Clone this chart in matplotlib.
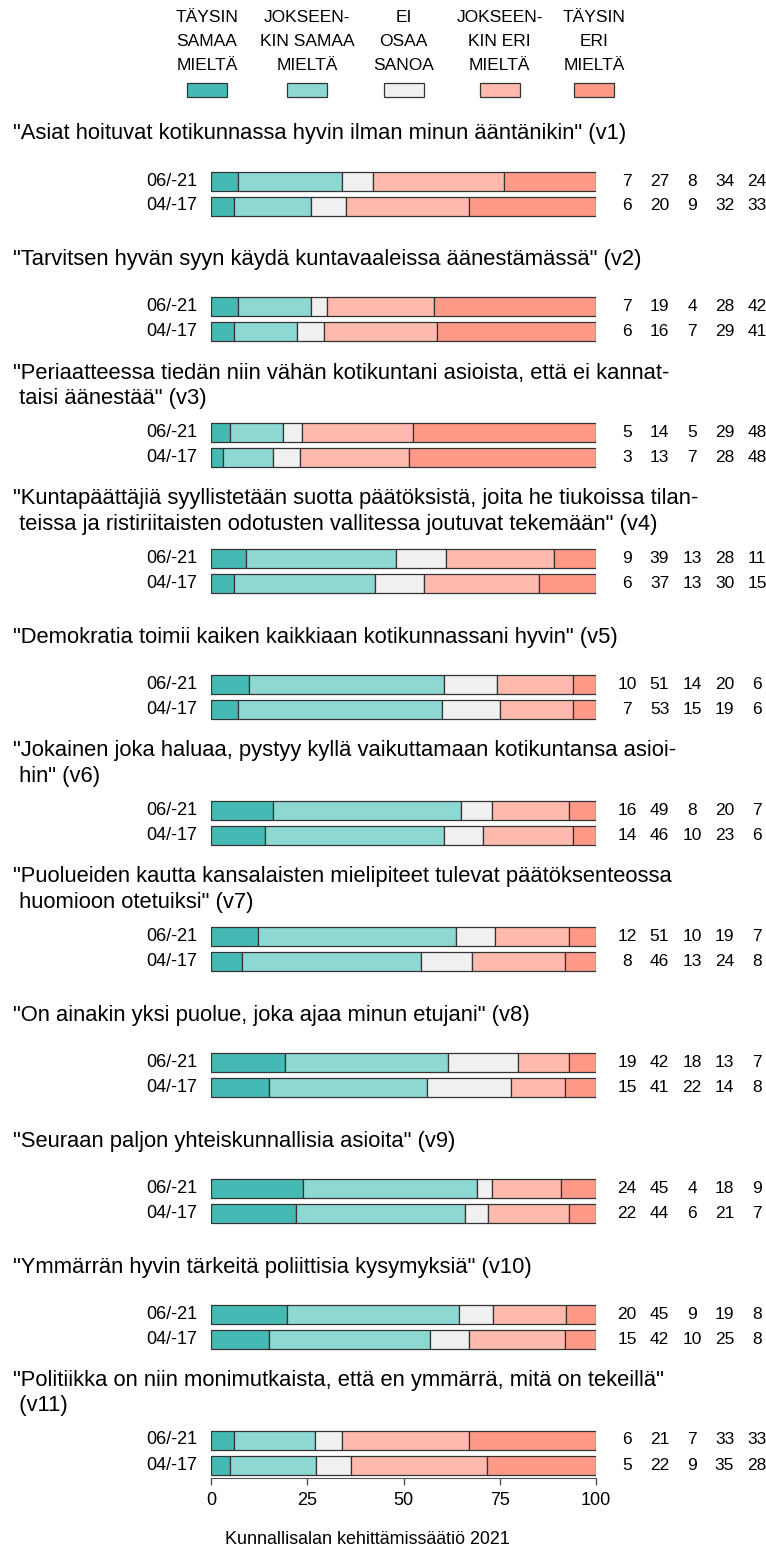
import matplotlib
matplotlib.use("Agg")
import matplotlib.pyplot as plt
import numpy as np

plt.rcParams['font.family'] = ['Liberation Sans', 'DejaVu Sans']

# answer categories (legend)
categories = ["TÄYSIN\nSAMAA\nMIELTÄ", "JOKSEEN-\nKIN SAMAA\nMIELTÄ", "EI\nOSAA\nSANOA",
              "JOKSEEN-\nKIN ERI\nMIELTÄ", "TÄYSIN\nERI\nMIELTÄ"]
colors = ["#45bab4", "#8dd8d2", "#f0f0f0", "#ffb9ad", "#ff9988"]

periods = ["06/-21", "04/-17"]

statements = [
    '"Asiat hoituvat kotikunnassa hyvin ilman minun ääntänikin" (v1)',
    '"Tarvitsen hyvän syyn käydä kuntavaaleissa äänestämässä" (v2)',
    '"Periaatteessa tiedän niin vähän kotikuntani asioista, että ei kannat-\n taisi äänestää" (v3)',
    '"Kuntapäättäjiä syyllistetään suotta päätöksistä, joita he tiukoissa tilan-\n teissa ja ristiriitaisten odotusten vallitessa joutuvat tekemään" (v4)',
    '"Demokratia toimii kaiken kaikkiaan kotikunnassani hyvin" (v5)',
    '"Jokainen joka haluaa, pystyy kyllä vaikuttamaan kotikuntansa asioi-\n hin" (v6)',
    '"Puolueiden kautta kansalaisten mielipiteet tulevat päätöksenteossa\n huomioon otetuiksi" (v7)',
    '"On ainakin yksi puolue, joka ajaa minun etujani" (v8)',
    '"Seuraan paljon yhteiskunnallisia asioita" (v9)',
    '"Ymmärrän hyvin tärkeitä poliittisia kysymyksiä" (v10)',
    '"Politiikka on niin monimutkaista, että en ymmärrä, mitä on tekeillä"\n (v11)',
]

# percentages, 06/2021
share_2021 = [
    [7, 27, 8, 34, 24],
    [7, 19, 4, 28, 42],
    [5, 14, 5, 29, 48],
    [9, 39, 13, 28, 11],
    [10, 51, 14, 20, 6],
    [16, 49, 8, 20, 7],
    [12, 51, 10, 19, 7],
    [19, 42, 18, 13, 7],
    [24, 45, 4, 18, 9],
    [20, 45, 9, 19, 8],
    [6, 21, 7, 33, 33],
]
# percentages, 04/2017
share_2017 = [
    [6, 20, 9, 32, 33],
    [6, 16, 7, 29, 41],
    [3, 13, 7, 28, 48],
    [6, 37, 13, 30, 15],
    [7, 53, 15, 19, 6],
    [14, 46, 10, 23, 6],
    [8, 46, 13, 24, 8],
    [15, 41, 22, 14, 8],
    [22, 44, 6, 21, 7],
    [15, 42, 10, 25, 8],
    [5, 22, 9, 35, 28],
]

source = "Kunnallisalan kehittämissäätiö 2021"

W, H = 766, 1550
fig = plt.figure(figsize=(W / 100, H / 100), dpi=100)

# axes covers the bar area; y units are pixels from the top
x0_px, x1_px, axis_px = 211, 596, 1478
ax = fig.add_axes([x0_px / W, (H - axis_px) / H, (x1_px - x0_px) / W, axis_px / H])
ax.set_xlim(0, 100)
ax.set_ylim(axis_px, 0)
ppu = (x1_px - x0_px) / 100.0  # pixels per x unit

def xp(px):
    return (px - x0_px) / ppu

edge = "#333333"
first_row, row_step, bar_gap, bar_h = 181, 125.9, 25, 19
num_x = [xp(627 + 32.5 * k) for k in range(5)]

for i, title in enumerate(statements):
    yc = first_row + i * row_step
    ax.text(xp(13), yc - 47, title, ha='left', va='center', fontsize=15.8,
            linespacing=1.28, clip_on=False)
    for j, vals in enumerate([share_2021[i], share_2017[i]]):
        y = yc + j * bar_gap
        v = np.array(vals, dtype=float)
        v = v / v.sum() * 100
        left = np.concatenate([[0], np.cumsum(v)[:-1]])
        ax.barh([y] * 5, v, left=left, height=bar_h, color=colors,
                edgecolor=edge, linewidth=0.9)
        ax.text(xp(197), y, periods[j], ha='right', va='center', fontsize=13)
        for k, val in enumerate(vals):
            ax.text(num_x[k], y, str(val), ha='center', va='center',
                    fontsize=12.5, clip_on=False)

# legend
leg_x = [xp(207), 25, 50, 75, xp(594)]
leg = ax.bar(leg_x, 14, width=40 / ppu, bottom=83, color=colors, edgecolor=edge,
             linewidth=0.9)
for p in leg:
    p.set_clip_on(False)
for k, lab in enumerate(categories):
    ax.text(leg_x[k], 41.5, lab, ha='center', va='center', fontsize=12.5,
            linespacing=1.72)

# x axis
for s in ['top', 'right', 'left']:
    ax.spines[s].set_visible(False)
ax.spines['bottom'].set_bounds(0, 100)
ax.spines['bottom'].set_color("#555555")
ax.set_xticks([0, 25, 50, 75, 100])
ax.tick_params(axis='x', length=5, width=1, color="#555555", labelsize=13, pad=5)
ax.set_yticks([])
ax.patch.set_visible(False)

fig.text(367 / W, 1 - 1540 / H, source, ha='center', va='center', fontsize=12.9)

fig.savefig("out.png", dpi=100)
